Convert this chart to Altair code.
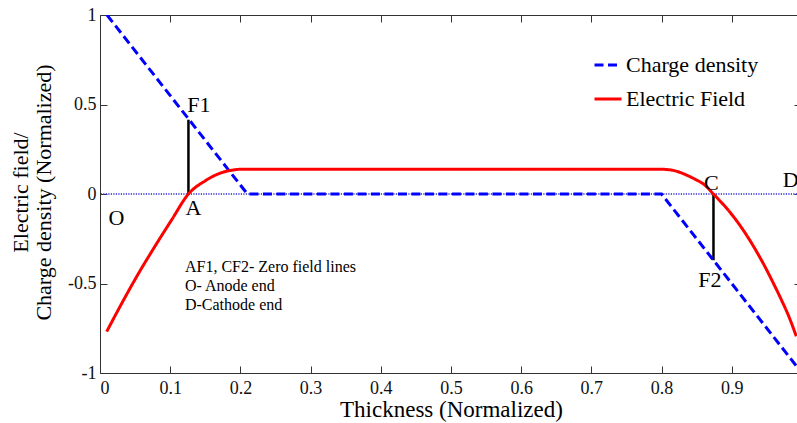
import altair as alt
import pandas as pd

# ---------------- data ----------------
series_names = ["Charge density", "Electric Field"]
series_colors = ["#0000ff", "#ff0000"]

charge_x = [0.01, 0.21, 0.80, 1.00]
charge_y = [1.0, 0.0, 0.0, -1.0]

field_x = [0.0095, 0.031, 0.055, 0.078, 0.102, 0.126, 0.150, 0.173, 0.188, 0.200,
           0.800, 0.812, 0.824, 0.836, 0.848, 0.860, 0.874, 0.886, 0.898, 0.910,
           0.922, 0.934, 0.946, 0.958, 0.970, 0.982, 0.992]
field_y = [-0.769, -0.611, -0.443, -0.294, -0.145, 0.0, 0.074, 0.119, 0.133, 0.138,
           0.138, 0.135, 0.124, 0.105, 0.082, 0.055, 0.0, -0.050, -0.104, -0.166,
           -0.235, -0.312, -0.396, -0.488, -0.585, -0.690, -0.795]

zero_line_x = [0.126, 0.874]
zero_line_y1 = [0.0, 0.0]
zero_line_y2 = [0.415, -0.37]

point_labels = ["F1", "A", "O", "C", "D", "F2"]
point_label_x = [0.141, 0.133, 0.0235, 0.871, 0.984, 0.869]
point_label_y = [0.46, -0.117, -0.173, 0.022, 0.041, -0.518]

note_lines = ["AF1, CF2- Zero field lines", "O- Anode end", "D-Cathode end"]
note_x = [0.121, 0.121, 0.121]
note_y = [-0.436, -0.542, -0.648]

x_ticks = [0, 0.1, 0.2, 0.3, 0.4, 0.5, 0.6, 0.7, 0.8, 0.9]
y_ticks = [-1, -0.5, 0, 0.5, 1]

x_title = "Thickness (Normalized)"
y_title = ["Electric field/", "Charge density (Normalized)"]

# ---------------- tables ----------------
charge_df = pd.DataFrame({"x": charge_x, "y": charge_y, "series": series_names[0]})
field_df = pd.DataFrame({"x": field_x, "y": field_y, "series": series_names[1]})
zero_df = pd.DataFrame({"x": zero_line_x, "y": zero_line_y1, "y2": zero_line_y2})
pts_df = pd.DataFrame({"x": point_label_x, "y": point_label_y, "t": point_labels})
notes_df = pd.DataFrame({"x": note_x, "y": note_y, "t": note_lines})
base_df = pd.DataFrame({"y": [0.0]})

FONT = "Liberation Serif"
AX = "#333333"
W, H = 697, 358

xs = alt.Scale(domain=[0, 0.993], nice=False, zero=False)
ys = alt.Scale(domain=[-1, 1], nice=False, zero=False)
color_scale = alt.Scale(domain=series_names, range=series_colors)
dash_scale = alt.Scale(domain=series_names, range=[[9, 4.5], [1, 0]])
lab = "'' + datum.value"

x_axis_main = alt.Axis(orient="bottom", values=x_ticks, labelExpr=lab, ticks=False, tickSize=0,
                       domain=True, domainColor=AX, grid=False,
                       labelFont=FONT, labelFontSize=18, labelColor="#111111",
                       labelPadding=20, labelBaseline="alphabetic",
                       title=x_title, titleFont=FONT, titleFontSize=23, titleFontWeight="normal",
                       titleColor="#000000", titleX=351, titleY=43, titleBaseline="alphabetic",
                       titleAnchor="middle", titleAlign="center")
y_axis_main = alt.Axis(orient="left", values=y_ticks, labelExpr=lab, ticks=False, tickSize=0,
                       domain=True, domainColor=AX, grid=False,
                       labelFont=FONT, labelFontSize=18, labelColor="#111111", labelPadding=4,
                       title=y_title, titleFont=FONT, titleFontSize=22, titleFontWeight="normal",
                       titleColor="#000000", titleAngle=270, titleX=-73, titleY=177,
                       titleAlign="center", titleBaseline="alphabetic", titleLineHeight=23)

x_axis_bot_ticks = alt.Axis(orient="top", offset=-H, values=x_ticks, labels=False, ticks=True,
                            tickSize=7, tickColor=AX, domain=False, grid=False, title=None)
y_axis_left_ticks = alt.Axis(orient="right", offset=-W, values=y_ticks, labels=False, ticks=True,
                             tickSize=7, tickColor=AX, domain=False, grid=False, title=None)
x_axis_top = alt.Axis(orient="bottom", offset=-H, values=x_ticks, labels=False, ticks=True,
                      tickSize=7, tickColor=AX, domain=True, domainColor=AX, grid=False, title=None)
y_axis_right = alt.Axis(orient="left", offset=-W, values=y_ticks, labels=False, ticks=True,
                        tickSize=3, tickColor=AX, domain=False, grid=False, title=None)

dotted = alt.Chart(base_df).mark_rule(color="#2a2ad0", strokeWidth=1.3, strokeDash=[1.2, 1.3]).encode(
    y=alt.Y("y:Q", scale=ys, axis=None)
)

zero_rules = alt.Chart(zero_df).mark_rule(color="#000000", strokeWidth=2.5).encode(
    x=alt.X("x:Q", scale=xs, axis=x_axis_bot_ticks),
    y=alt.Y("y:Q", scale=ys, axis=y_axis_left_ticks),
    y2="y2:Q",
)

charge = alt.Chart(charge_df).mark_line(strokeWidth=3, clip=True).encode(
    x=alt.X("x:Q", scale=xs, axis=x_axis_main),
    y=alt.Y("y:Q", scale=ys, axis=y_axis_main),
    color=alt.Color("series:N", scale=color_scale, legend=alt.Legend(title=None)),
    strokeDash=alt.StrokeDash("series:N", scale=dash_scale, legend=alt.Legend(title=None)),
)

field = alt.Chart(field_df).mark_line(strokeWidth=3, clip=True, interpolate="monotone").encode(
    x=alt.X("x:Q", scale=xs, axis=None),
    y=alt.Y("y:Q", scale=ys, axis=None),
    color=alt.Color("series:N", scale=color_scale, legend=alt.Legend(title=None)),
    strokeDash=alt.StrokeDash("series:N", scale=dash_scale, legend=alt.Legend(title=None)),
)

pts = alt.Chart(pts_df).mark_text(font=FONT, fontSize=22, color="#000000", align="center",
                                  baseline="alphabetic").encode(
    x=alt.X("x:Q", scale=xs, axis=x_axis_top),
    y=alt.Y("y:Q", scale=ys, axis=y_axis_right),
    text="t:N",
)

notes = alt.Chart(notes_df).mark_text(font=FONT, fontSize=16, color="#000000", align="left",
                                      baseline="alphabetic").encode(
    x=alt.X("x:Q", scale=xs, axis=None),
    y=alt.Y("y:Q", scale=ys, axis=None),
    text="t:N",
)

chart = (
    alt.layer(dotted, zero_rules, charge, field, pts, notes)
    .resolve_axis(x="independent", y="independent")
    .properties(width=W, height=H, autosize="none",
                padding={"left": 100, "top": 15, "right": 0, "bottom": 50})
    .configure_view(stroke=None)
    .configure_legend(orient="none", legendX=493, legendY=35, symbolType="stroke", symbolSize=729,
                      symbolStrokeWidth=3, labelFont=FONT, labelFontSize=22, labelColor="#000000",
                      labelOffset=3, rowPadding=8, padding=0, symbolOpacity=1)
)

chart.save("out.html", embed_options={"renderer": "svg", "actions": False})
